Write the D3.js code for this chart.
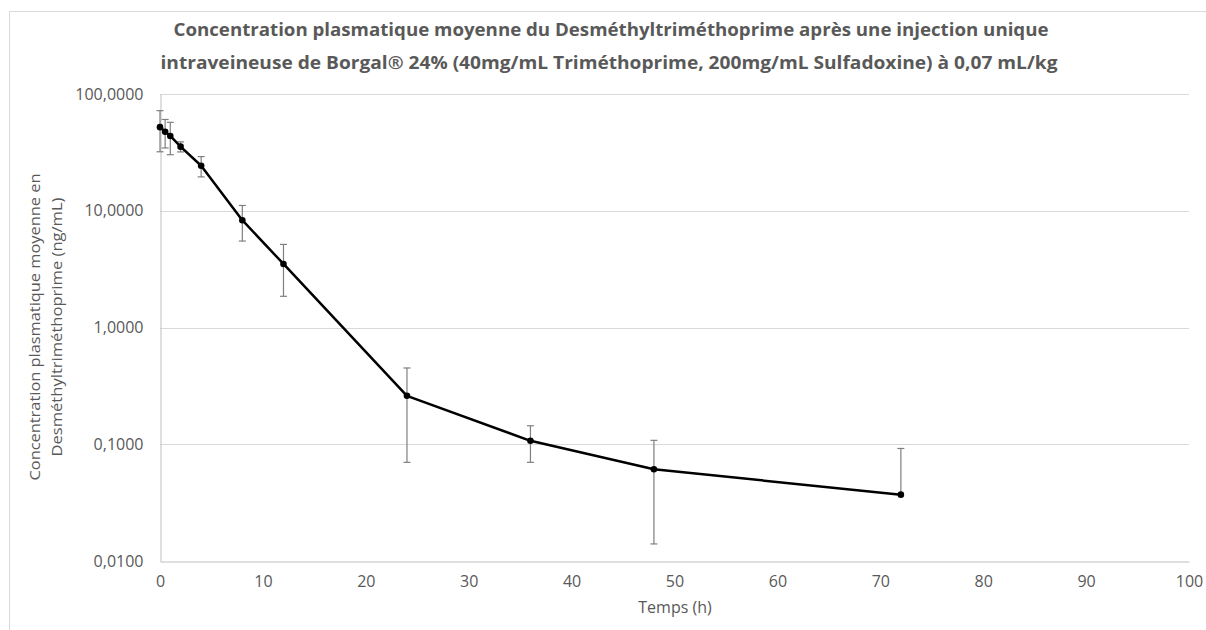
<!DOCTYPE html>
<html><head><meta charset="utf-8">
<script src="https://cdn.jsdelivr.net/npm/d3@7"></script>
<style>body{margin:0;background:#fff}svg{display:block}text{font-family:"Open Sans",sans-serif}</style>
</head><body>
<svg id="c" width="1206" height="630"></svg>
<script>
const titleLines = ["Concentration plasmatique moyenne du Desméthyltriméthoprime après une injection unique",
  "intraveineuse de Borgal® 24% (40mg/mL Triméthoprime, 200mg/mL Sulfadoxine) à 0,07 mL/kg"];
const yTitleLines = ["Concentration plasmatique moyenne en", "Desméthyltriméthoprime (ng/mL)"];
const xTitle = "Temps (h)";
const times = [0, 0.5, 1, 2, 4, 8, 12, 24, 36, 48, 72];
const means = [52, 47.5, 43.7, 35.4, 24.3, 8.3, 3.5, 0.26, 0.107, 0.061, 0.037];
const sds = [20, 13, 13.5, 3.5, 4.8, 2.8, 1.65, 0.19, 0.037, 0.047, 0.055];
const xTicks = [0, 10, 20, 30, 40, 50, 60, 70, 80, 90, 100];
const yTicks = [0.01, 0.1, 1, 10, 100];

const svg = d3.select("#c");
const L = 160, R = 1189, T = 94, B = 561;
const x = d3.scaleLinear().domain([0, 100]).range([L, R]);
const y = d3.scaleLog().domain([0.01, 100]).range([B, T]);
const grey = "#595959";

svg.append("rect").attr("x", 9.5).attr("y", 11.5).attr("width", 1220).attr("height", 640)
  .attr("fill", "none").attr("stroke", "#d9d9d9");

// gridlines
svg.append("g").selectAll("line").data(yTicks.slice(1)).join("line")
  .attr("x1", L).attr("x2", R).attr("y1", d => Math.round(y(d)) + 0.5).attr("y2", d => Math.round(y(d)) + 0.5)
  .attr("stroke", "#d9d9d9").attr("stroke-width", 1);

// axes
const fmt = d => d3.format(".4f")(d).replace(".", ",");
const yAxis = svg.append("g").attr("transform", `translate(${L + 0.5},0)`)
  .call(d3.axisLeft(y).tickValues(yTicks).tickFormat(fmt).tickSize(0).tickPadding(17));
yAxis.select(".domain").attr("stroke", "#bfbfbf");
yAxis.selectAll("text").attr("fill", grey).attr("font-size", 16);

const xAxis = svg.append("g").attr("transform", `translate(0,${B + 0.5})`)
  .call(d3.axisBottom(x).tickValues(xTicks).tickFormat(d3.format("d")).tickSize(0).tickPadding(14));
xAxis.select(".domain").attr("stroke", "#bfbfbf");
xAxis.selectAll("text").attr("fill", grey).attr("font-size", 16);

// error bars
const pts = times.map((t, i) => ({t, m: means[i], s: sds[i]}));
const eb = svg.append("g").attr("stroke", "#7f7f7f").attr("stroke-width", 1.2);
pts.forEach(p => {
  const hi = p.m + p.s, lo = p.m - p.s;
  const xp = x(p.t);
  const yLo = lo > 0 ? y(Math.max(lo, 0.01)) : y(p.m);
  eb.append("line").attr("x1", xp).attr("x2", xp).attr("y1", y(hi)).attr("y2", yLo);
  eb.append("line").attr("x1", xp - 3.5).attr("x2", xp + 3.5).attr("y1", y(hi)).attr("y2", y(hi));
  if (lo > 0) eb.append("line").attr("x1", xp - 3.5).attr("x2", xp + 3.5).attr("y1", yLo).attr("y2", yLo);
});

// line
svg.append("path").datum(pts)
  .attr("d", d3.line().x(d => x(d.t)).y(d => y(d.m)))
  .attr("fill", "none").attr("stroke", "#000").attr("stroke-width", 2.5).attr("stroke-linejoin", "round");
svg.append("g").selectAll("circle").data(pts).join("circle")
  .attr("cx", d => x(d.t)).attr("cy", d => y(d.m)).attr("r", 3.3).attr("fill", "#000");

// titles
const tl = [[611, 36, 875], [609, 69, 897]];
titleLines.forEach((s, i) => {
  svg.append("text").attr("x", tl[i][0]).attr("y", tl[i][1]).attr("text-anchor", "middle")
    .attr("font-size", 18).attr("font-weight", "bold").attr("fill", grey)
    .attr("textLength", tl[i][2]).attr("lengthAdjust", "spacingAndGlyphs").text(s);
});
svg.append("text").attr("x", 675).attr("y", 613).attr("text-anchor", "middle")
  .attr("font-size", 16).attr("fill", grey).text(xTitle);
const yt = [[40, 307], [62, 259]];
yTitleLines.forEach((s, i) => {
  svg.append("text").attr("transform", `translate(${yt[i][0]},327) rotate(-90)`).attr("text-anchor", "middle")
    .attr("font-size", 15).attr("fill", grey)
    .attr("textLength", yt[i][1]).attr("lengthAdjust", "spacingAndGlyphs").text(s);
});
</script>
</body></html>
